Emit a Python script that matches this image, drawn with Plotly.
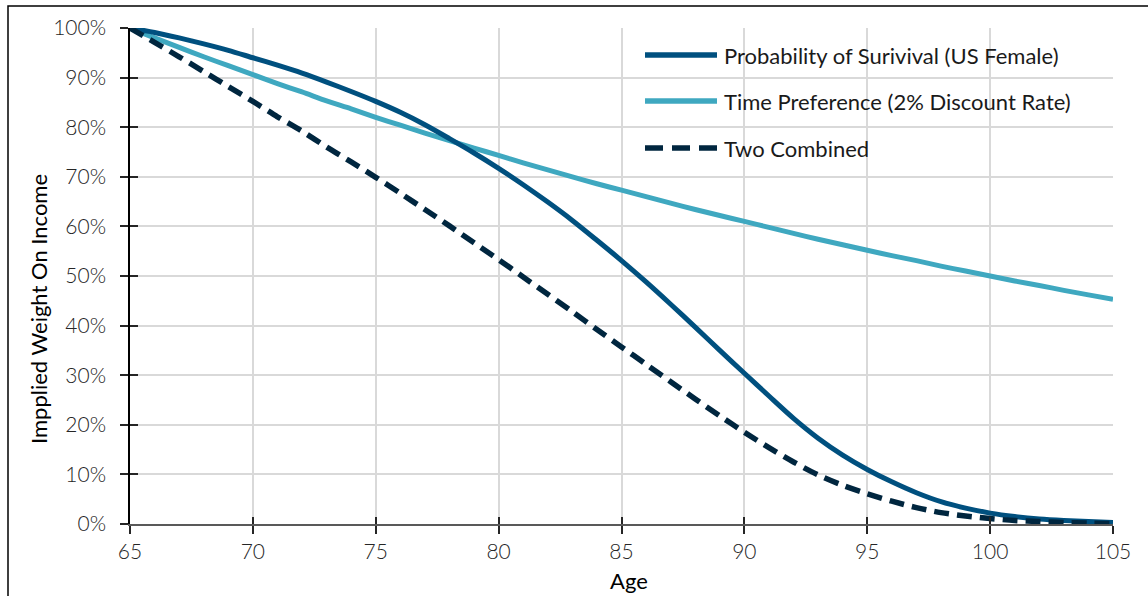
import plotly.graph_objects as go

# Age axis (years)
ages = list(range(65, 106))

# Probability of survival, US female, percent of those alive at 65
survival = [100.0, 99.1, 98.0, 96.8, 95.5, 94.0, 92.5, 90.9, 89.1, 87.2,
            85.2, 83.0, 80.5, 77.7, 74.8, 71.7, 68.4, 64.9, 61.2, 57.2,
            53.1, 48.8, 44.3, 39.7, 35.0, 30.4, 25.8, 21.3, 17.3, 13.9,
            11.0, 8.5, 6.3, 4.5, 3.2, 2.2, 1.5, 1.0, 0.7, 0.5, 0.3]

# Time preference weight at a 2% discount rate, percent
time_pref = [100.0, 98.0, 96.1, 94.2, 92.4, 90.6, 88.8, 87.1, 85.3, 83.7,
             82.0, 80.4, 78.8, 77.3, 75.8, 74.3, 72.8, 71.4, 70.0, 68.6,
             67.3, 66.0, 64.7, 63.4, 62.2, 61.0, 59.8, 58.6, 57.4, 56.3,
             55.2, 54.1, 53.1, 52.0, 51.0, 50.0, 49.0, 48.1, 47.1, 46.2, 45.3]

# Both effects together, percent
combined = [100.0, 97.1, 94.2, 91.2, 88.2, 85.2, 82.1, 79.2, 76.0, 73.0,
            69.9, 66.7, 63.4, 60.1, 56.7, 53.3, 49.8, 46.3, 42.8, 39.2,
            35.7, 32.2, 28.7, 25.2, 21.8, 18.5, 15.4, 12.5, 9.9, 7.8,
            6.1, 4.6, 3.3, 2.3, 1.6, 1.1, 0.7, 0.5, 0.3, 0.2, 0.1]

x_ticks = [65, 70, 75, 80, 85, 90, 95, 100, 105]
y_ticks = [0, 10, 20, 30, 40, 50, 60, 70, 80, 90, 100]

series_names = ["Probability of Surivival (US Female)",
                "Time Preference (2% Discount Rate)",
                "Two Combined"]

C_SURV = "#00507F"
C_TIME = "#3FA8C0"
C_COMB = "#00263F"

FONT = "Lato"
W, H = 1148, 596
ML, MR, MT, MB = 130, 35, 28, 72
PW, PH = W - ML - MR, H - MT - MB


def px_x(p):
    return (p - ML) / PW


def px_y(p):
    return (H - MB - p) / PH


fig = go.Figure()

fig.add_trace(go.Scatter(x=ages, y=time_pref, mode="lines", name=series_names[1],
                         line=dict(color=C_TIME, width=5, shape="spline", smoothing=0.8),
                         cliponaxis=False, showlegend=False))
fig.add_trace(go.Scatter(x=ages, y=survival, mode="lines", name=series_names[0],
                         line=dict(color=C_SURV, width=5, shape="spline", smoothing=0.8),
                         cliponaxis=False, showlegend=False))
fig.add_trace(go.Scatter(x=ages, y=combined, mode="lines", name=series_names[2],
                         line=dict(color=C_COMB, width=5.5, shape="spline", smoothing=0.8,
                                   dash="15px,8px"),
                         cliponaxis=False, showlegend=False))
# empty trace so the overlay axes (inner half of the crossing ticks) get drawn
fig.add_trace(go.Scatter(x=[], y=[], xaxis="x2", yaxis="y2", showlegend=False))

tick_font = dict(family=FONT, size=21, color="#262626", weight=300)

fig.update_layout(
    width=W, height=H,
    margin=dict(l=ML, r=MR, t=MT, b=MB),
    paper_bgcolor="white", plot_bgcolor="white",
    showlegend=False,
    xaxis=dict(range=[65, 105], tickvals=x_ticks, ticktext=[str(v) for v in x_ticks],
               showgrid=True, gridcolor="#D9D9D9", gridwidth=1.8,
               showline=True, linecolor="#595959", linewidth=2,
               ticks="outside", ticklen=8, tickwidth=1.5, tickcolor="#262626",
               tickfont=tick_font, zeroline=False, layer="below traces"),
    yaxis=dict(range=[0, 100], tickvals=y_ticks, ticktext=[f"{v}%" for v in y_ticks],
               showgrid=True, gridcolor="#D9D9D9", gridwidth=1.8,
               showline=True, linecolor="#000000", linewidth=1.5,
               ticks="outside", ticklen=8, tickwidth=1.5, tickcolor="#262626",
               tickfont=tick_font, zeroline=False, layer="below traces",
               ticklabelstandoff=10),
    xaxis2=dict(range=[65, 105], overlaying="x", anchor="y2", side="bottom",
                tickvals=x_ticks, ticks="inside", ticklen=7, tickwidth=1.5,
                tickcolor="#262626", showticklabels=False, showgrid=False,
                zeroline=False, showline=False),
    yaxis2=dict(range=[0, 100], overlaying="y", anchor="x2", side="left",
                tickvals=y_ticks, ticks="inside", ticklen=8, tickwidth=1.5,
                tickcolor="#262626", showticklabels=False, showgrid=False,
                zeroline=False, showline=False),
)

# Axis titles
fig.add_annotation(text="Age", xref="paper", yref="paper",
                   x=px_x(629), y=px_y(580), xanchor="center", yanchor="middle",
                   showarrow=False,
                   font=dict(family=FONT, size=22, color="#000000"))
fig.add_annotation(text="Impplied Weight On Income", xref="paper", yref="paper",
                   x=px_x(38), y=px_y(309), xanchor="center", yanchor="middle",
                   showarrow=False, textangle=-90,
                   font=dict(family=FONT, size=22, color="#000000"))

# Legend drawn inside the plot area
legend_rows = [(55, C_SURV, None), (101, C_TIME, None), (148, C_COMB, "18px,9px")]
for (row_y, col, dash), label in zip(legend_rows, series_names):
    line = dict(color=col, width=5.5)
    if dash:
        line["dash"] = dash
    fig.add_shape(type="line", xref="paper", yref="paper",
                  x0=px_x(645), x1=px_x(717), y0=px_y(row_y), y1=px_y(row_y),
                  line=line)
    fig.add_annotation(text=label, xref="paper", yref="paper",
                       x=px_x(722), y=px_y(row_y), xanchor="left", yanchor="middle",
                       showarrow=False,
                       font=dict(family=FONT, size=22, color="#1A1A1A"))

# Outer chart frame
fig.add_shape(type="rect", xref="paper", yref="paper",
              x0=px_x(8), x1=px_x(1150), y0=px_y(600), y1=px_y(6),
              line=dict(color="#000000", width=1.5), layer="below")

fig.write_html("out.html")
